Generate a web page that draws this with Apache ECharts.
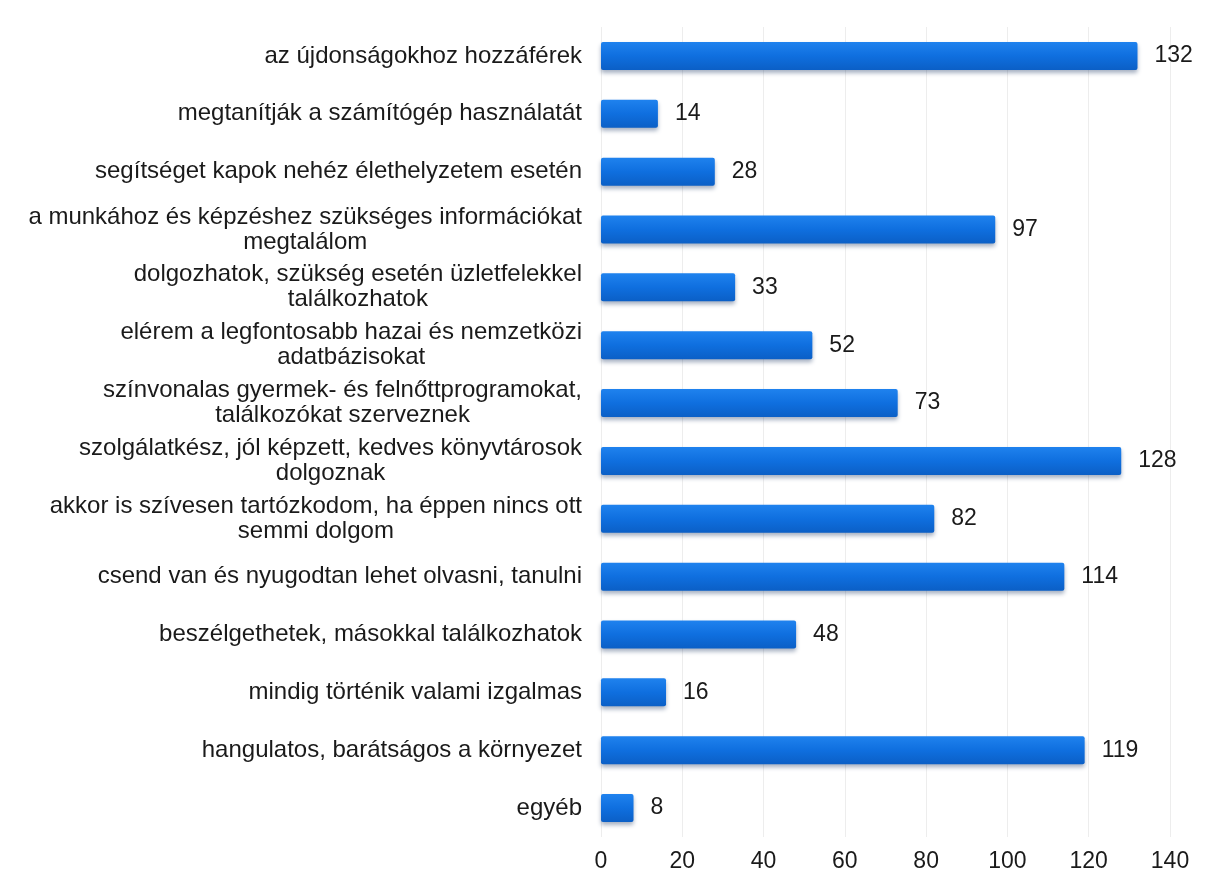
<!DOCTYPE html>
<html>
<head>
<meta charset="utf-8">
<script src="https://cdn.jsdelivr.net/npm/echarts@6/dist/echarts.min.js"></script>
<style>
  html, body { margin: 0; padding: 0; background: #fff; }
  #chart { width: 1216px; height: 888px; }
</style>
</head>
<body>
<div id="chart"></div>
<script>
'use strict';

// Kategóriák fentről lefelé
const categories = [
  'az újdonságokhoz hozzáférek',
  'megtanítják a számítógép használatát',
  'segítséget kapok nehéz élethelyzetem esetén',
  'a munkához és képzéshez szükséges információkat\nmegtalálom',
  'dolgozhatok, szükség esetén üzletfelekkel\ntalálkozhatok',
  'elérem a legfontosabb hazai és nemzetközi\nadatbázisokat',
  'színvonalas gyermek- és felnőttprogramokat,\ntalálkozókat szerveznek',
  'szolgálatkész, jól képzett, kedves könyvtárosok\ndolgoznak',
  'akkor is szívesen tartózkodom, ha éppen nincs ott\nsemmi dolgom',
  'csend van és nyugodtan lehet olvasni, tanulni',
  'beszélgethetek, másokkal találkozhatok',
  'mindig történik valami izgalmas',
  'hangulatos, barátságos a környezet',
  'egyéb'
];

const values = [132, 14, 28, 97, 33, 52, 73, 128, 82, 114, 48, 16, 119, 8];

const axisMin = 0;
const axisMax = 140;
const axisStep = 20;

const FONT = '"Liberation Sans", Arial, sans-serif';
const TEXT = '#1a1a1a';

const chart = echarts.init(document.getElementById('chart'), null, { renderer: 'canvas' });

chart.setOption({
  backgroundColor: '#ffffff',
  animation: false,
  grid: { left: 601, right: 46, top: 27, bottom: 51, containLabel: false },
  xAxis: {
    type: 'value',
    min: axisMin,
    max: axisMax,
    interval: axisStep,
    axisLine: { show: false },
    axisTick: { show: false },
    splitLine: { show: true, lineStyle: { color: '#ededed', width: 1 } },
    axisLabel: { margin: 13, color: TEXT, fontSize: 23, fontFamily: FONT }
  },
  yAxis: {
    type: 'category',
    inverse: true,
    data: categories,
    axisLine: { show: false },
    axisTick: { show: false },
    axisLabel: {
      margin: 19,
      color: TEXT,
      fontSize: 24,
      fontFamily: FONT,
      lineHeight: 25,
      formatter(v) {
        return v.split('\n').map((s) => `{c|${s}}`).join('\n');
      },
      rich: {
        c: { align: 'center', fontSize: 24, fontFamily: FONT, color: TEXT, lineHeight: 25 }
      }
    }
  },
  series: [{
    type: 'bar',
    data: values,
    barWidth: 28,
    itemStyle: {
      borderRadius: 2,
      color: new echarts.graphic.LinearGradient(0, 0, 0, 1, [
        { offset: 0, color: '#1f82ee' },
        { offset: 0.5, color: '#0f6fdf' },
        { offset: 1, color: '#0b5fc6' }
      ]),
      shadowColor: 'rgba(0, 30, 80, 0.35)',
      shadowBlur: 4,
      shadowOffsetY: 3
    },
    label: {
      show: true,
      position: 'right',
      distance: 17,
      color: TEXT,
      fontSize: 23,
      fontFamily: FONT
    }
  }]
});
</script>
</body>
</html>
